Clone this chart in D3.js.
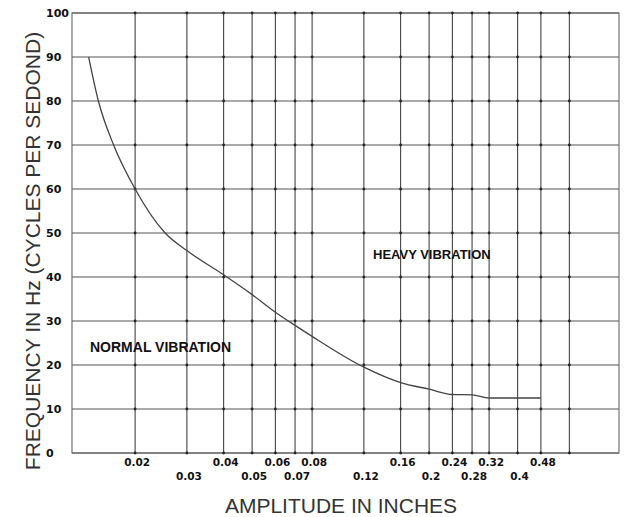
<!DOCTYPE html>
<html lang="en">
	<head>
		<meta charset="utf-8">
		<title>Vibration severity: frequency vs amplitude</title>
		<script type="text/javascript" src="https://d3js.org/d3.v7.min.js"></script>
		<style>
			body { margin: 0; background: #fff; }
		</style>
	</head>
	<body>
		<script type="text/javascript">

			//Width and height
			var w = 628;
			var h = 517;

			//Amplitude gridlines (inches), first row / second row of labels
			var ampRow1 = [0.02, 0.04, 0.06, 0.08, 0.16, 0.24, 0.32, 0.48];
			var ampRow2 = [0.03, 0.05, 0.07, 0.12, 0.2, 0.28, 0.4];
			var ampExtra = [0.6];

			//Frequency gridlines (Hz)
			var freqTicks = [0, 10, 20, 30, 40, 50, 60, 70, 80, 90, 100];

			//Boundary curve between normal and heavy vibration
			var curveAmp  = [0.0139, 0.015, 0.0169, 0.02, 0.0253, 0.03, 0.04, 0.05, 0.06, 0.07, 0.08, 0.12, 0.16, 0.2, 0.24, 0.28, 0.32, 0.4, 0.48];
			var curveFreq = [90, 80, 70, 60, 50, 46, 40.5, 36, 32, 29, 26.5, 19.5, 16, 14.5, 13.3, 13.2, 12.5, 12.5, 12.5];

			var margin = {left: 72, right: 9, top: 13, bottom: 64};

			//Scales
			var x = d3.scaleLog()
						.domain([0.0122, 0.885])
						.range([margin.left, w - margin.right]);

			var y = d3.scaleLinear()
						.domain([0, 100])
						.range([h - margin.bottom, margin.top]);

			var svg = d3.select("body")
						.append("svg")
						.attr("width", w)
						.attr("height", h);

			var allAmp = ampRow1.concat(ampRow2).concat(ampExtra).sort(d3.ascending);

			//Horizontal gridlines
			svg.append("g")
				.selectAll("line")
				.data(freqTicks)
				.enter()
				.append("line")
				.attr("x1", x.range()[0])
				.attr("x2", x.range()[1])
				.attr("y1", function(d) { return y(d); })
				.attr("y2", function(d) { return y(d); })
				.attr("stroke", "#555")
				.attr("stroke-width", 1.1);

			//Vertical gridlines
			svg.append("g")
				.selectAll("line")
				.data(allAmp)
				.enter()
				.append("line")
				.attr("x1", function(d) { return x(d); })
				.attr("x2", function(d) { return x(d); })
				.attr("y1", y(0))
				.attr("y2", y(100))
				.attr("stroke", "#444")
				.attr("stroke-width", 1.1);

			//Frame
			svg.append("rect")
				.attr("x", x.range()[0])
				.attr("y", y(100))
				.attr("width", x.range()[1] - x.range()[0])
				.attr("height", y(0) - y(100))
				.attr("fill", "none")
				.attr("stroke", "#666")
				.attr("stroke-width", 1.1);

			//Dots where the grid crosses
			var crossings = [];
			allAmp.forEach(function(a) {
				freqTicks.forEach(function(f) { crossings.push([a, f]); });
			});
			svg.append("g")
				.selectAll("circle")
				.data(crossings)
				.enter()
				.append("circle")
				.attr("cx", function(d) { return x(d[0]); })
				.attr("cy", function(d) { return y(d[1]); })
				.attr("r", 1.4)
				.attr("fill", "#222");

			//Boundary curve
			var line = d3.line()
						.x(function(d) { return x(d[0]); })
						.y(function(d) { return y(d[1]); })
						.curve(d3.curveMonotoneX);

			svg.append("path")
				.datum(d3.zip(curveAmp, curveFreq))
				.attr("d", line)
				.attr("fill", "none")
				.attr("stroke", "#444")
				.attr("stroke-width", 1.3);

			//Y tick labels
			svg.append("g")
				.selectAll("text")
				.data(freqTicks)
				.enter()
				.append("text")
				.attr("x", 46)
				.attr("y", function(d) { return y(d); })
				.attr("dy", "0.36em")
				.style("font-family", "DejaVu Sans")
				.style("font-weight", "bold")
				.style("font-size", "11px")
				.style("fill", "#111")
				.text(function(d) { return d; });

			//X tick labels, two staggered rows
			function xLabels(data, baseline) {
				svg.append("g")
					.selectAll("text")
					.data(data)
					.enter()
					.append("text")
					.attr("x", function(d) { return x(d) + 2; })
					.attr("y", baseline)
					.attr("text-anchor", "middle")
					.style("font-family", "DejaVu Sans")
					.style("font-weight", "bold")
					.style("font-size", "10.5px")
					.style("fill", "#111")
					.text(function(d) { return d3.format(".2f")(d).replace(/0$/, d === 0.2 || d === 0.4 ? "" : "0"); });
			}
			xLabels(ampRow1, 466);
			xLabels(ampRow2, 480);

			//Region labels
			svg.append("text")
				.attr("x", 90)
				.attr("y", 352)
				.style("font-family", "Liberation Sans")
				.style("font-weight", "bold")
				.style("font-size", "14px")
				.style("fill", "#111")
				.text("NORMAL VIBRATION");

			svg.append("text")
				.attr("x", 373)
				.attr("y", 259)
				.style("font-family", "Liberation Sans")
				.style("font-weight", "bold")
				.style("font-size", "13px")
				.style("fill", "#111")
				.text("HEAVY VIBRATION");

			//Axis titles
			svg.append("text")
				.attr("x", 341)
				.attr("y", 513)
				.attr("text-anchor", "middle")
				.style("font-family", "Liberation Sans")
				.style("font-size", "21px")
				.style("fill", "#333")
				.text("AMPLITUDE IN INCHES");

			svg.append("text")
				.attr("transform", "translate(40,251) rotate(-90)")
				.attr("text-anchor", "middle")
				.style("font-family", "Liberation Sans")
				.style("font-size", "21px")
				.style("fill", "#333")
				.text("FREQUENCY IN Hz (CYCLES PER SEDOND)");

		</script>
	</body>
</html>
